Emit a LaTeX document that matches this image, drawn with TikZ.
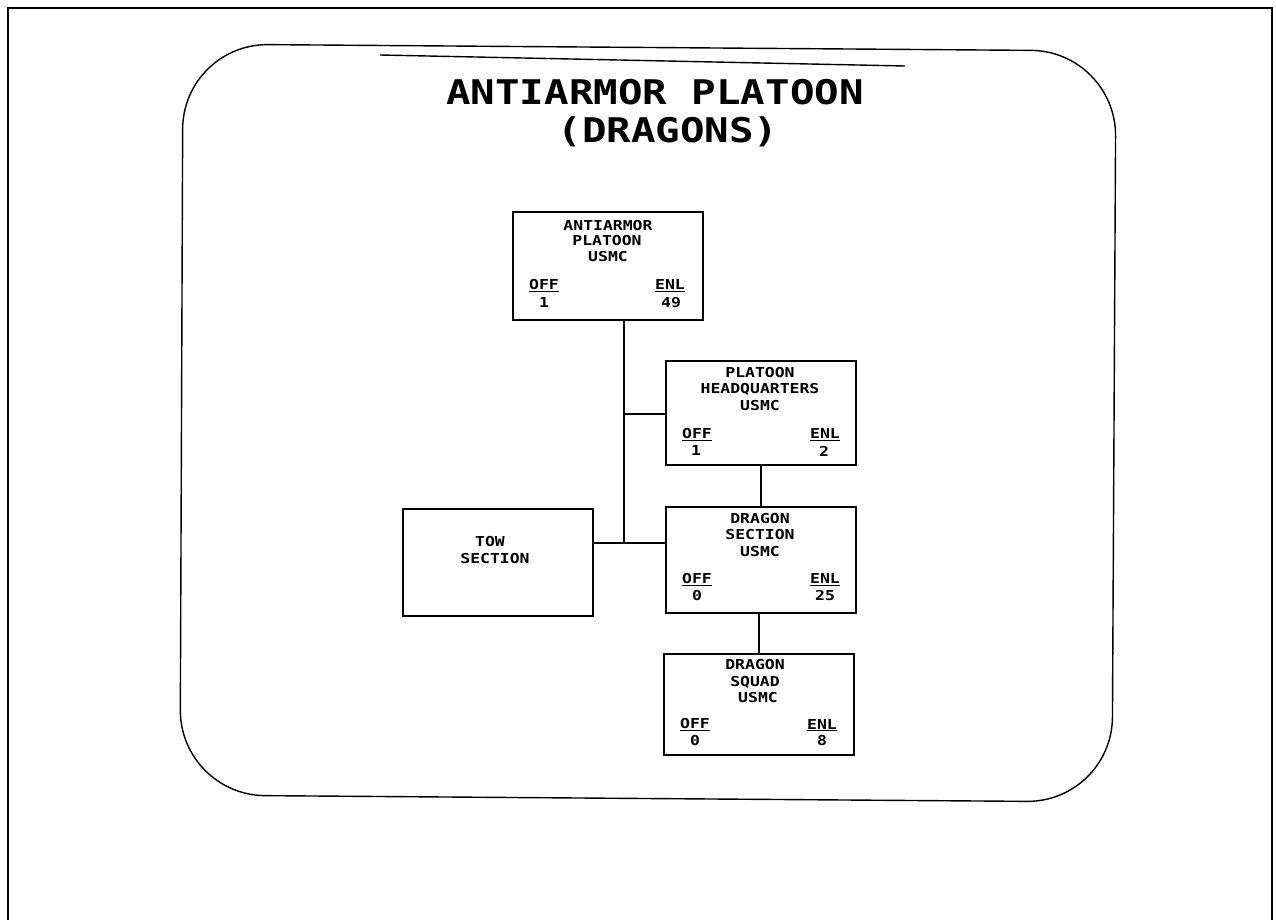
\documentclass[tikz,border=0pt]{standalone}
\usepackage{fontspec}
\newfontfamily\plotfont[FakeStretch=1.2]{DejaVu Sans Mono}
\begin{document}
\begin{tikzpicture}[x=1pt,y=-1pt,
  box/.style={draw,line width=1.6pt,inner sep=0pt},
  link/.style={line width=1.4pt},
  lbl/.style={inner sep=0pt,font=\plotfont\bfseries\fontsize{13.7}{15}\selectfont},
  ttl/.style={inner sep=0pt,font=\plotfont\bfseries\fontsize{34}{40}\selectfont}]
\useasboundingbox (0,0) rectangle (1276,920);
% page frame
\draw[line width=1.5pt] (8,925) -- (8,8) -- (1272,8) -- (1272,925);
% rounded frame
\draw[line width=1.4pt,rounded corners=85pt] (183,44) -- (1116,51) -- (1112,802) -- (180,795) -- cycle;
\draw[line width=1.4pt] (380,55) -- (905,66);
% title
\node[ttl] (t1) at (655,92) {ANTIARMOR PLATOON};
\node[ttl] (t2) at (668,132) {(DRAGONS)};
% boxes
\node[box,minimum width=190pt,minimum height=108pt] (A) at (608,266) {};
\node[box,minimum width=190pt,minimum height=104pt] (B) at (761,413) {};
\node[box,minimum width=190pt,minimum height=107pt] (T) at (498,562.5) {};
\node[box,minimum width=190pt,minimum height=106pt] (DS) at (761,560) {};
\node[box,minimum width=190pt,minimum height=101pt] (Q) at (759,704.5) {};
% box texts
\node[lbl] (a1) at (608,226) {ANTIARMOR};
\node[lbl] (a2) at (607,241) {PLATOON};
\node[lbl] (a3) at (608,257) {USMC};
\node[lbl] (a4) at (544,286) {\underline{OFF}};
\node[lbl] (a5) at (544,303) {1};
\node[lbl] (a6) at (670,286) {\underline{ENL}};
\node[lbl] (a7) at (671,303) {49};
\node[lbl] (b1) at (760,373) {PLATOON};
\node[lbl] (b2) at (760,389) {HEADQUARTERS};
\node[lbl] (b3) at (760,406) {USMC};
\node[lbl] (b4) at (697,435) {\underline{OFF}};
\node[lbl] (b5) at (696,451) {1};
\node[lbl] (b6) at (825,435) {\underline{ENL}};
\node[lbl] (b7) at (824,451) {2};
\node[lbl] (c1) at (490,542) {TOW};
\node[lbl] (c2) at (495,559) {SECTION};
\node[lbl] (d1) at (760,519) {DRAGON};
\node[lbl] (d2) at (760,535) {SECTION};
\node[lbl] (d3) at (760,552) {USMC};
\node[lbl] (d4) at (697,580) {\underline{OFF}};
\node[lbl] (d5) at (697,596) {0};
\node[lbl] (d6) at (825,580) {\underline{ENL}};
\node[lbl] (d7) at (825,596) {25};
\node[lbl] (e1) at (755,665) {DRAGON};
\node[lbl] (e2) at (755,682) {SQUAD};
\node[lbl] (e3) at (758,698) {USMC};
\node[lbl] (e4) at (695,725) {\underline{OFF}};
\node[lbl] (e5) at (695,741) {0};
\node[lbl] (e6) at (822,725) {\underline{ENL}};
\node[lbl] (e7) at (822,741) {8};
% connectors
\coordinate (jx) at (624,0);
\coordinate (jB) at (0,414);
\coordinate (jT) at (0,543);
\draw[link] (A.south -| jx) -- (jx |- jT);
\draw[link] (jx |- jB) -- (B.west |- jB);
\draw[link] (T.east |- jT) -- (DS.west |- jT);
\draw[link] (B.south) -- (DS.north);
\draw[link] (DS.south -| Q.north) -- (Q.north);
\end{tikzpicture}
\end{document}
